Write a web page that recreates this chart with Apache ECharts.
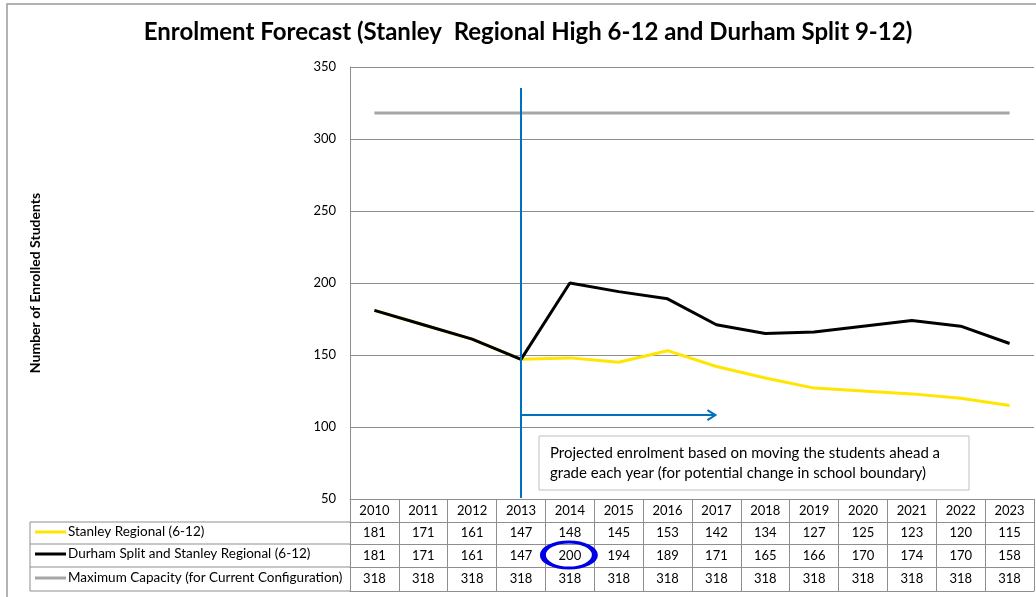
<!DOCTYPE html>
<html>
<head>
<meta charset="utf-8">
<script src="https://cdn.jsdelivr.net/npm/echarts@6/dist/echarts.min.js"></script>
<style>
  html, body { margin: 0; padding: 0; background: #fff; }
  #chart { width: 1036px; height: 597px; }
</style>
</head>
<body>
<div id="chart"></div>
<script>
// data
const years = ['2010','2011','2012','2013','2014','2015','2016','2017','2018','2019','2020','2021','2022','2023'];
const stanley = [181,171,161,147,148,145,153,142,134,127,125,123,120,115];
const durham = [181,171,161,147,200,194,189,171,165,166,170,174,170,158];
const maxCap = [318,318,318,318,318,318,318,318,318,318,318,318,318,318];
const seriesNames = ['Stanley Regional (6-12)', 'Durham Split and Stanley Regional (6-12)', 'Maximum Capacity (for Current Configuration)'];
const seriesColors = ['#FFE500', '#000000', '#A6A6A6'];

const font = 'Lato';
const gridCol = '#8e8e8e';
// table rows: axis line offsets below plot bottom
const rowOffsets = [0, 23, 45, 68];
const rowHeights = [23, 22, 23, 24];

function tableAxis(data, offset, h, showLine) {
  return {
    type: 'category',
    gridIndex: 0,
    position: 'bottom',
    offset: offset,
    data: data.map(String),
    boundaryGap: true,
    axisLine: { show: showLine, lineStyle: { color: gridCol, width: 1 } },
    axisTick: { show: h > 0, length: h, interval: 0, lineStyle: { color: gridCol, width: 1 } },
    axisLabel: { show: h > 0, interval: 0, color: '#000', fontSize: 13, fontFamily: font, margin: Math.round(h / 2) - 7 },
    splitLine: { show: false }
  };
}

const chart = echarts.init(document.getElementById('chart'));

const option = {
  animation: false,
  title: {
    text: 'Enrolment Forecast (Stanley  Regional High 6-12 and Durham Split 9-12)',
    left: 528,
    top: 20,
    padding: 0,
    textAlign: 'center',
    textStyle: { fontFamily: font, fontSize: 24, fontWeight: 'bold', color: '#000' }
  },
  legend: seriesNames.map((n, i) => ({
    data: [n],
    left: 35,
    top: [525, 547, 571][i],
    padding: 0,
    icon: 'rect',
    itemWidth: 31,
    itemHeight: 3,
    selectedMode: false,
    textStyle: { fontFamily: font, fontSize: 13.5, color: '#000', padding: [0, 0, 0, -3] }
  })),
  grid: { left: 350, top: 67, right: 2, bottom: 98, containLabel: false },
  xAxis: [
    tableAxis(years, rowOffsets[0], rowHeights[0], true),
    tableAxis(stanley, rowOffsets[1], rowHeights[1], true),
    tableAxis(durham, rowOffsets[2], rowHeights[2], true),
    tableAxis(maxCap, rowOffsets[3], rowHeights[3], true),
    tableAxis(years, 92, 0, true)
  ],
  yAxis: {
    type: 'value',
    min: 50,
    max: 350,
    interval: 50,
    name: 'Number of Enrolled Students',
    nameLocation: 'middle',
    nameGap: 308,
    nameTextStyle: { fontFamily: font, fontSize: 14, fontWeight: 'bold', color: '#000' },
    axisLine: { show: true, lineStyle: { color: gridCol } },
    axisTick: { show: false },
    axisLabel: { color: '#000', fontSize: 13, fontFamily: font, margin: 14 },
    splitLine: { show: true, lineStyle: { color: gridCol, width: 1 } }
  },
  series: [
    { name: seriesNames[0], type: 'line', data: stanley, xAxisIndex: 0, symbol: 'none', color: seriesColors[0], lineStyle: { width: 3 }, z: 2 },
    { name: seriesNames[1], type: 'line', data: durham, xAxisIndex: 0, symbol: 'none', color: seriesColors[1], lineStyle: { width: 3 }, z: 3 },
    { name: seriesNames[2], type: 'line', data: maxCap, xAxisIndex: 0, symbol: 'none', color: seriesColors[2], lineStyle: { width: 3 }, z: 2 }
  ]
};

chart.setOption(option);

// annotations placed through the chart's own scales
const px = (cat, v) => chart.convertToPixel({ xAxisIndex: 0, yAxisIndex: 0 }, [cat, v]);
const vTop = px('2013', 335.5);
const vBot = px('2013', 50);
const arrowY = px('2013', 108.3)[1];
const arrowEnd = px('2017', 108.3)[0];
const circ = px('2014', 50);
const x0 = 30, x1 = 350;
const y0 = vBot[1];
const rowLines = [y0 + 23, y0 + 45, y0 + 68, y0 + 92];

chart.setOption({
  graphic: [
    { type: 'rect', shape: { x: 7, y: 4, width: 1100, height: 700 }, style: { fill: 'none', stroke: '#999', lineWidth: 1.5 }, z: 0, silent: true },
    { type: 'line', shape: { x1: vTop[0], y1: vTop[1], x2: vBot[0], y2: vBot[1] - 1 }, style: { stroke: '#0070C0', lineWidth: 2 }, z: 10 },
    { type: 'line', shape: { x1: vTop[0], y1: arrowY, x2: arrowEnd - 1, y2: arrowY }, style: { stroke: '#0070C0', lineWidth: 2 }, z: 10 },
    { type: 'polyline', shape: { points: [[arrowEnd - 9, arrowY - 5], [arrowEnd - 1, arrowY], [arrowEnd - 9, arrowY + 5]] }, style: { stroke: '#0070C0', lineWidth: 2, fill: 'none' }, z: 10 },
    { type: 'rect', shape: { x: 539, y: 436, width: 430, height: 54 }, style: { fill: '#fff', stroke: '#bfbfbf', lineWidth: 1 }, z: 10 },
    { type: 'text', x: 550, y: 443, style: { text: 'Projected enrolment based on moving the students ahead a\ngrade each year (for potential change in school boundary)', fontFamily: font, fontSize: 15, lineHeight: 20, fill: '#000' }, z: 11 },
    { type: 'circle', x: circ[0] - 1, y: y0 + 56, scaleX: 2.0, shape: { cx: 0, cy: 0, r: 13 }, style: { fill: 'none', stroke: '#0000E6', lineWidth: 3, strokeNoScale: true }, z: 12 },
    { type: 'line', shape: { x1: x0, y1: rowLines[0], x2: x0, y2: rowLines[3] }, style: { stroke: gridCol, lineWidth: 1 } },
    ...rowLines.map(y => ({ type: 'line', shape: { x1: x0, y1: y, x2: x1, y2: y }, style: { stroke: gridCol, lineWidth: 1 } }))
  ]
});
</script>
</body>
</html>
